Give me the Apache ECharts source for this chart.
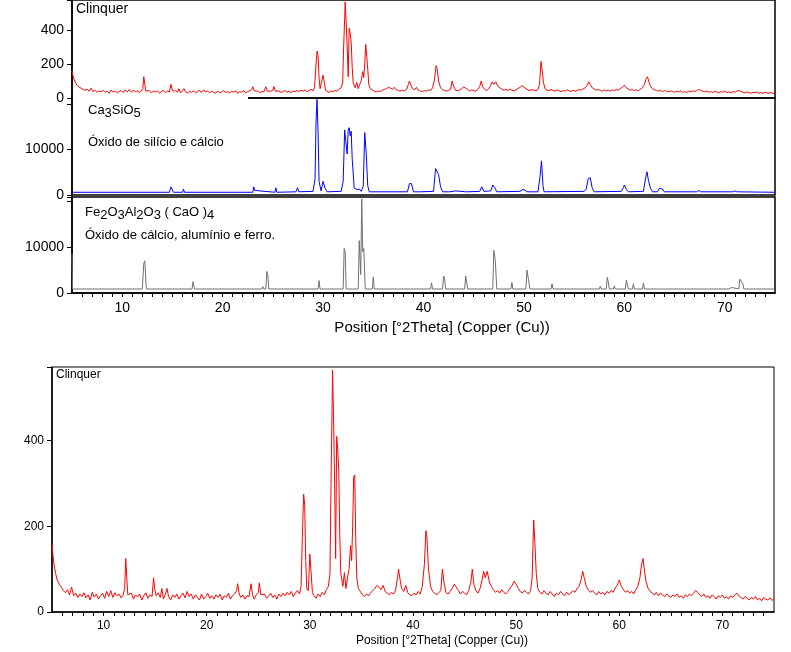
<!DOCTYPE html>
<html><head><meta charset="utf-8">
<script src="https://cdn.jsdelivr.net/npm/echarts@6/dist/echarts.min.js"></script>
<style>html,body{margin:0;padding:0;background:#fff}#c{width:791px;height:652px}</style>
</head><body><div id="c"></div>
<script>
const clinquer = [[5.0,160],[5.1,130],[5.2,110],[5.35,90],[5.5,75],[5.7,65],[5.9,58],[6.1,50],[6.3,45],[6.5,52],[6.7,40],[6.9,58],[7.1,38],[7.3,44],[7.5,34],[7.7,42],[7.9,36],[8.1,45],[8.3,33],[8.5,40],[8.7,28],[8.9,46],[9.1,35],[9.3,42],[9.5,30],[9.7,38],[9.9,44],[10.1,32],[10.3,48],[10.5,36],[10.7,50],[10.9,34],[11.1,45],[11.3,38],[11.5,42],[11.7,33],[11.9,40],[12.05,55],[12.15,125],[12.25,80],[12.35,40],[12.5,36],[12.7,44],[12.9,30],[13.1,40],[13.3,35],[13.5,42],[13.7,28],[13.9,38],[14.1,45],[14.3,32],[14.5,40],[14.7,36],[14.85,80],[14.95,55],[15.1,38],[15.3,45],[15.5,34],[15.65,55],[15.8,30],[16.0,42],[16.15,55],[16.3,36],[16.5,28],[16.7,40],[16.9,34],[17.1,42],[17.3,30],[17.5,38],[17.7,44],[17.9,33],[18.1,48],[18.3,36],[18.5,42],[18.7,30],[18.9,40],[19.1,34],[19.3,28],[19.5,42],[19.7,30],[19.9,36],[20.1,44],[20.3,32],[20.5,38],[20.7,30],[20.9,40],[21.1,34],[21.3,42],[21.5,28],[21.7,38],[21.9,34],[22.1,44],[22.3,30],[22.5,38],[22.7,42],[22.9,50],[23.0,66],[23.15,42],[23.3,34],[23.5,40],[23.7,30],[23.9,38],[24.1,36],[24.3,66],[24.45,40],[24.6,30],[24.8,40],[25.0,45],[25.1,68],[25.25,40],[25.4,36],[25.6,42],[25.8,32],[26.0,38],[26.2,44],[26.4,34],[26.6,40],[26.8,30],[27.0,42],[27.2,36],[27.4,44],[27.6,38],[27.8,46],[28.0,40],[28.2,48],[28.4,36],[28.6,44],[28.8,50],[29.0,42],[29.15,60],[29.3,200],[29.4,275],[29.5,250],[29.6,120],[29.7,55],[29.85,50],[30.0,135],[30.1,100],[30.25,45],[30.4,38],[30.6,32],[30.8,42],[31.0,36],[31.2,46],[31.4,40],[31.6,52],[31.8,60],[31.95,90],[32.05,300],[32.15,470],[32.2,565],[32.3,450],[32.4,300],[32.5,125],[32.6,410],[32.7,380],[32.8,330],[32.9,180],[33.0,90],[33.2,60],[33.35,92],[33.5,55],[33.65,80],[33.8,100],[33.95,155],[34.05,120],[34.15,200],[34.25,315],[34.35,320],[34.45,170],[34.55,80],[34.7,55],[34.9,48],[35.1,40],[35.3,36],[35.5,42],[35.7,38],[35.9,45],[36.1,50],[36.3,55],[36.5,62],[36.7,58],[36.9,52],[37.1,62],[37.3,48],[37.5,44],[37.7,40],[37.9,46],[38.1,42],[38.3,50],[38.5,80],[38.6,100],[38.75,75],[38.9,55],[39.1,48],[39.3,62],[39.5,45],[39.7,40],[39.9,38],[40.1,44],[40.3,40],[40.5,48],[40.7,42],[40.9,60],[41.1,110],[41.25,190],[41.35,175],[41.5,100],[41.7,60],[41.9,48],[42.1,44],[42.3,40],[42.5,45],[42.7,50],[42.85,100],[43.0,70],[43.2,45],[43.4,42],[43.6,48],[43.8,55],[44.0,65],[44.2,58],[44.4,50],[44.6,42],[44.8,48],[45.0,44],[45.2,40],[45.4,50],[45.6,68],[45.75,100],[45.9,65],[46.1,50],[46.3,44],[46.5,55],[46.7,75],[46.85,95],[47.0,80],[47.2,95],[47.4,70],[47.6,60],[47.8,52],[48.0,46],[48.2,50],[48.4,44],[48.6,52],[48.8,46],[49.0,42],[49.2,48],[49.4,55],[49.6,62],[49.8,72],[50.0,65],[50.2,55],[50.4,48],[50.6,44],[50.8,50],[51.0,46],[51.2,42],[51.4,50],[51.55,80],[51.7,215],[51.8,170],[51.95,90],[52.1,55],[52.3,46],[52.5,42],[52.7,50],[52.9,44],[53.1,40],[53.3,48],[53.5,42],[53.7,36],[53.9,44],[54.1,40],[54.3,48],[54.5,42],[54.7,38],[54.9,46],[55.1,40],[55.3,44],[55.5,50],[55.7,46],[55.9,54],[56.1,60],[56.3,75],[56.45,95],[56.6,80],[56.8,60],[57.0,52],[57.2,46],[57.4,50],[57.6,44],[57.8,40],[58.0,48],[58.2,42],[58.4,46],[58.6,40],[58.8,48],[59.0,44],[59.2,50],[59.4,46],[59.6,56],[59.8,62],[60.0,75],[60.2,60],[60.4,52],[60.6,46],[60.8,50],[61.0,44],[61.2,48],[61.4,42],[61.6,52],[61.8,60],[62.0,80],[62.15,110],[62.3,125],[62.45,95],[62.6,70],[62.8,55],[63.0,48],[63.2,44],[63.4,40],[63.6,46],[63.8,38],[64.0,44],[64.2,40],[64.4,36],[64.6,42],[64.8,38],[65.0,34],[65.2,40],[65.4,36],[65.6,42],[65.8,34],[66.0,38],[66.2,32],[66.4,40],[66.6,36],[66.8,42],[67.0,38],[67.2,44],[67.4,50],[67.6,46],[67.8,40],[68.0,36],[68.2,42],[68.4,34],[68.6,38],[68.8,32],[69.0,40],[69.2,36],[69.4,30],[69.6,38],[69.8,34],[70.0,40],[70.2,32],[70.4,36],[70.6,30],[70.8,38],[71.0,34],[71.2,40],[71.4,44],[71.6,38],[71.8,34],[72.0,30],[72.2,36],[72.4,32],[72.6,28],[72.8,34],[73.0,30],[73.2,36],[73.4,28],[73.6,32],[73.8,26],[74.0,34],[74.2,30],[74.4,28],[74.6,33],[74.8,27],[75.0,30]];

const ca3sio5 = [[5,600],[10.5,600],[10.6,900],[10.7,600],[14.7,600],[14.85,1800],[14.95,2000],[15.1,600],[16.0,600],[16.1,1300],[16.2,600],[21.4,600],[21.5,1000],[21.6,600],[23.0,600],[23.1,1800],[23.2,1000],[23.3,600],[25.2,600],[25.3,1600],[25.4,600],[27.3,700],[27.45,1600],[27.6,700],[29.0,800],[29.2,3500],[29.3,16000],[29.4,21000],[29.5,14000],[29.6,3000],[29.8,900],[30.0,3000],[30.1,3400],[30.2,1500],[30.4,700],[31.8,800],[32.0,3000],[32.15,14300],[32.25,12000],[32.4,9000],[32.5,14200],[32.6,14800],[32.7,13000],[32.8,14000],[32.9,8000],[33.1,1500],[33.4,1200],[33.6,1300],[33.8,800],[34.0,2000],[34.15,13700],[34.3,9000],[34.45,2000],[34.6,700],[38.4,700],[38.6,2500],[38.8,2500],[39.0,700],[39.5,700],[39.6,1000],[39.7,700],[41.0,800],[41.2,5800],[41.35,5900],[41.5,4500],[41.7,1800],[41.9,700],[42.6,700],[42.7,900],[43.2,900],[43.3,700],[44.2,700],[44.3,900],[44.4,700],[45.6,800],[45.8,1800],[46.0,800],[46.7,900],[46.9,2200],[47.1,1600],[47.3,700],[49.6,800],[49.9,1200],[50.1,1100],[50.3,700],[50.8,700],[51.4,700],[51.6,4000],[51.75,7500],[51.9,2000],[52.0,700],[56.0,800],[56.2,1300],[56.4,3600],[56.6,3800],[56.8,1500],[57.0,700],[59.7,800],[59.9,1600],[60.0,2200],[60.2,1200],[60.4,700],[61.9,800],[62.1,3500],[62.25,5100],[62.4,3200],[62.6,1500],[62.8,700],[63.3,700],[63.5,1500],[63.8,1300],[64.0,700],[67.2,700],[67.4,1000],[67.6,700],[70.8,700],[71.0,900],[71.2,700],[75,600]];

const feAlCa = [[5,8500],[5.05,870],[12.0,870],[12.15,6500],[12.25,7000],[12.4,870],[16.95,870],[17.05,2450],[17.2,870],[23.0,870],[23.1,1300],[23.2,870],[23.9,870],[24.0,1400],[24.1,870],[24.3,870],[24.4,4700],[24.5,3800],[24.6,870],[29.5,870],[29.6,2700],[29.7,870],[32.0,870],[32.1,9700],[32.2,9000],[32.3,870],[33.5,870],[33.6,11400],[33.75,4000],[33.85,20500],[33.95,9000],[34.05,9700],[34.2,870],[34.9,870],[35.0,3500],[35.1,870],[36.7,870],[36.8,1200],[36.9,870],[37.4,870],[37.5,1200],[37.6,870],[38.5,870],[38.6,1300],[38.7,870],[40.7,870],[40.8,2200],[40.9,870],[41.9,870],[42.0,3700],[42.1,3200],[42.2,870],[44.1,870],[44.2,3700],[44.3,3300],[44.4,870],[46.9,870],[47.0,9300],[47.15,7000],[47.3,870],[48.7,870],[48.8,2300],[48.9,870],[50.2,870],[50.3,5000],[50.45,3000],[50.6,870],[52.7,870],[52.8,2000],[52.9,870],[57.5,870],[57.6,1500],[57.7,870],[58.2,870],[58.3,3400],[58.4,2400],[58.5,870],[58.9,870],[59.0,1500],[59.1,870],[60.1,870],[60.2,2800],[60.3,1800],[60.4,870],[60.8,870],[60.9,2000],[61.0,870],[61.8,870],[61.9,2200],[62.0,870],[63.4,870],[63.5,1100],[63.6,870],[63.9,870],[64.0,1200],[64.1,870],[65.7,870],[65.8,1000],[65.9,870],[68.3,870],[68.4,1100],[68.5,870],[69.4,870],[69.5,1200],[69.6,870],[70.4,870],[70.5,1300],[70.7,1200],[70.8,870],[71.4,870],[71.5,3000],[71.8,2000],[71.9,870],[75,870]];

const xTicks = [10,20,30,40,50,60,70];
const xMinor = [6,7,8,9,10,11,12,13,14,15,16,17,18,19,20,21,22,23,24,25,26,27,28,29,30,31,32,33,34,35,36,37,38,39,40,41,42,43,44,45,46,47,48,49,50,51,52,53,54,55,56,57,58,59,60,61,62,63,64,65,66,67,68,69,70,71,72,73,74];
const xTitle = 'Position [°2Theta] (Copper (Cu))';

const F = 'Liberation Sans, Arial, sans-serif';
const ch = echarts.init(document.getElementById('c'));
function xa(gi, show, fs){
  return {type:'value', gridIndex:gi, min:5, max:75, show:true,
    axisLine:{show:show, onZero:false, lineStyle:{color:'#000', width:1.5}},
    axisTick:{show:show, customValues:xMinor, length:4, lineStyle:{color:'#000'}},
    axisLabel:{show:show, customValues:xTicks, color:'#000', fontFamily:F, fontSize:fs, margin:8},
    splitLine:{show:false}};
}
function ya(gi, max, interval, fs){
  return {type:'value', gridIndex:gi, min:0, max:max, interval:interval,
    axisLine:{show:true, lineStyle:{color:'#000', width:1.5}},
    axisTick:{show:true, length:5, lineStyle:{color:'#000'}},
    axisLabel:{color:'#000', fontFamily:F, fontSize:fs, margin:8,
      formatter: v => (v % interval === 0 && v < 0.9 * max ? String(v) : '')},
    splitLine:{show:false}};
}
function ln(xi, data, color){
  return {type:'line', xAxisIndex:xi, yAxisIndex:xi, data:data, showSymbol:false, silent:true,
    lineStyle:{color:color, width:1}, clip:true, animation:false};
}
ch.setOption({
  animation:false,
  grid:[
    {left:72, right:16, top:0, height:98, show:true, borderColor:'#000', borderWidth:1.5},
    {left:72, right:16, top:98, height:97, show:true, borderColor:'#000', borderWidth:1.5},
    {left:72, right:16, top:197, height:96, show:true, borderColor:'#000', borderWidth:1.5},
    {left:52, right:17, top:367, height:245, show:true, borderColor:'#000', borderWidth:1}
  ],
  xAxis:[xa(0,false,14), xa(1,false,14), xa(2,true,14), xa(3,true,12)],
  yAxis:[ya(0,576,200,14), ya(1,21300,10000,14), ya(2,20900,10000,14), ya(3,572,200,12)],
  series:[ln(0,clinquer,'#ff0000'), ln(1,ca3sio5,'#0000ff'), ln(2,feAlCa,'#707070'), ln(3,clinquer,'#ff0000')],
  graphic:[
    {type:'rect', left:73, top:97, shape:{width:175, height:3}, style:{fill:'#fff'}, z:100},
    {type:'text', left:76, top:2, style:{text:'Clinquer', font:'14px '+F, fill:'#000'}, z:101},
    {type:'text', left:88, top:104, style:{text:'Ca{s|3}SiO{s|5}', font:'13px '+F, fill:'#000', rich:{s:{font:'13px '+F, verticalAlign:'bottom', padding:[6,0,0,0]}}}, z:101},
    {type:'text', left:88, top:136, style:{text:'Óxido de silício e cálcio', font:'13px '+F, fill:'#000'}, z:101},
    {type:'text', left:85, top:206, style:{text:'Fe{s|2}O{s|3}Al{s|2}O{s|3} ( CaO ){s|4}', font:'13px '+F, fill:'#000', rich:{s:{font:'13px '+F, padding:[6,0,0,0]}}}, z:101},
    {type:'text', left:85, top:229, style:{text:'Óxido de cálcio, alumínio e ferro.', font:'13px '+F, fill:'#000'}, z:101},
    {type:'text', x:442, y:328, style:{text:xTitle, font:'15px '+F, fill:'#000', align:'center', verticalAlign:'middle'}, z:101},
    {type:'text', left:56, top:369, style:{text:'Clinquer', font:'12px '+F, fill:'#000'}, z:101},
    {type:'text', x:442, y:641, style:{text:xTitle, font:'12px '+F, fill:'#000', align:'center', verticalAlign:'middle'}, z:101}
  ]
});
</script></body></html>
